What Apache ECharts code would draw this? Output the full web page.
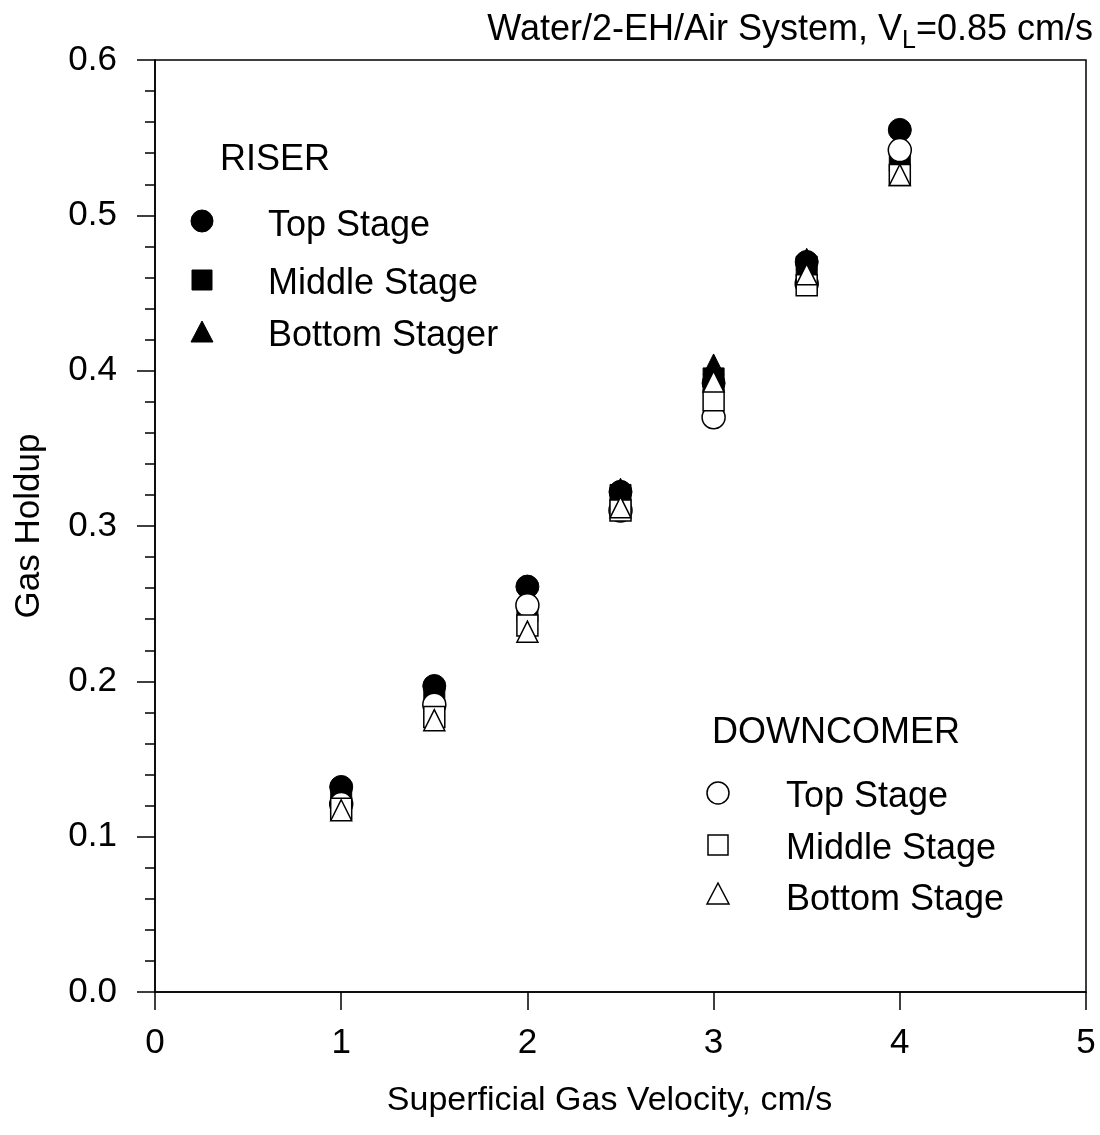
<!DOCTYPE html>
<html>
<head>
<meta charset="utf-8">
<script src="https://cdn.jsdelivr.net/npm/echarts@6/dist/echarts.min.js"></script>
<style>
  html, body { margin: 0; padding: 0; background: #fff; }
  #main { width: 1100px; height: 1135px; }
</style>
</head>
<body>
<div id="main"></div>
<script>
// superficial gas velocity, cm/s
const velocity = [1, 1.5, 2, 2.5, 3, 3.5, 4];

// riser (filled symbols)
const riserTop = [0.132, 0.197, 0.261, 0.322, 0.392, 0.470, 0.555];
const riserMiddle = [0.128, 0.190, 0.245, 0.320, 0.395, 0.467, 0.535];
const riserBottom = [0.125, 0.185, 0.240, 0.324, 0.404, 0.472, 0.530];

// downcomer (open symbols)
const downTop = [0.121, 0.185, 0.249, 0.310, 0.370, 0.456, 0.542];
const downMiddle = [0.118, 0.177, 0.236, 0.310, 0.381, 0.455, 0.526];
const downBottom = [0.117, 0.175, 0.232, 0.312, 0.393, 0.462, 0.526];

const riserNames = ['Top Stage', 'Middle Stage', 'Bottom Stager'];
const downNames = ['Top Stage', 'Middle Stage', 'Bottom Stage'];

const FONT = 'Liberation Sans, Arial, sans-serif';

function pairs(ys) {
  return velocity.map((x, i) => [x, ys[i]]);
}

function scatter(name, ys, symbol, filled) {
  return {
    type: 'scatter',
    name: name,
    data: pairs(ys),
    symbol: symbol,
    symbolSize: symbol === 'circle' ? 23 : 21,
    itemStyle: filled
      ? { color: '#000', borderColor: '#000', borderWidth: 1, opacity: 1 }
      : { color: '#fff', borderColor: '#000', borderWidth: 1.5, opacity: 1 },
    emphasis: { disabled: true }
  };
}

// legend drawn by hand, positions in pixels
function legendSymbol(kind, cx, cy, filled) {
  const style = filled
    ? { fill: '#000', stroke: '#000', lineWidth: 1 }
    : { fill: '#fff', stroke: '#000', lineWidth: 1.5 };
  if (kind === 'circle') {
    return { type: 'circle', shape: { cx: cx, cy: cy, r: 11 }, style: style };
  }
  if (kind === 'rect') {
    return { type: 'rect', shape: { x: cx - 10, y: cy - 10, width: 20, height: 20 }, style: style };
  }
  return {
    type: 'polygon',
    shape: { points: [[cx, cy - 11], [cx + 11, cy + 10], [cx - 11, cy + 10]] },
    style: style
  };
}

function legendText(text, x, y) {
  return {
    type: 'text',
    x: x, y: y,
    style: { text: text, fill: '#000', font: '36px ' + FONT, textVerticalAlign: 'middle' }
  };
}

const kinds = ['circle', 'rect', 'triangle'];
const graphics = [legendText('RISER', 220, 160), legendText('DOWNCOMER', 712, 733)];
const riserSymY = [221, 280, 332], riserTextY = [226, 284, 336];
const downSymY = [793, 845, 894], downTextY = [797, 849, 900];
kinds.forEach((k, i) => {
  graphics.push(legendSymbol(k, 202, riserSymY[i], true));
  graphics.push(legendText(riserNames[i], 268, riserTextY[i]));
  graphics.push(legendSymbol(k, 718, downSymY[i], false));
  graphics.push(legendText(downNames[i], 786, downTextY[i]));
});

const chart = echarts.init(document.getElementById('main'));
chart.setOption({
  backgroundColor: '#fff',
  animation: false,
  textStyle: { fontFamily: FONT, color: '#000' },
  title: {
    text: 'Water/2-EH/Air System, V{sub|L}=0.85 cm/s',
    right: 7,
    top: 7,
    padding: 0,
    textStyle: {
      fontFamily: FONT,
      fontSize: 36,
      fontWeight: 'normal',
      color: '#000',
      rich: {
        sub: { fontFamily: FONT, fontSize: 25, color: '#000', padding: [22, 0, 0, 0] }
      }
    }
  },
  grid: {
    left: 155, right: 14, top: 60, bottom: 143,
    show: true, borderColor: '#000', borderWidth: 1.5
  },
  xAxis: {
    type: 'value',
    min: 0, max: 5, interval: 1,
    name: 'Superficial Gas Velocity, cm/s',
    nameLocation: 'middle',
    nameGap: 92,
    nameTextStyle: { fontFamily: FONT, fontSize: 34, color: '#000', padding: [0, 22, 0, 0] },
    axisLine: { lineStyle: { color: '#000', width: 1.5 } },
    axisTick: { inside: false, length: 18, lineStyle: { color: '#000', width: 1.5 } },
    axisLabel: { margin: 34, fontFamily: FONT, fontSize: 35, color: '#000' },
    splitLine: { show: false }
  },
  yAxis: {
    type: 'value',
    min: 0, max: 0.6, interval: 0.1,
    name: 'Gas Holdup',
    nameLocation: 'middle',
    nameGap: 108,
    nameTextStyle: { fontFamily: FONT, fontSize: 35, color: '#000' },
    axisLine: { lineStyle: { color: '#000', width: 1.5 } },
    axisTick: { inside: false, length: 18, lineStyle: { color: '#000', width: 1.5 } },
    minorTick: { show: true, splitNumber: 5, length: 10, lineStyle: { color: '#000', width: 1.5 } },
    axisLabel: {
      margin: 38, fontFamily: FONT, fontSize: 35, color: '#000',
      formatter: v => v.toFixed(1)
    },
    splitLine: { show: false }
  },
  graphic: graphics,
  series: [
    scatter('Riser Top', riserTop, 'circle', true),
    scatter('Riser Middle', riserMiddle, 'rect', true),
    scatter('Riser Bottom', riserBottom, 'triangle', true),
    scatter('Downcomer Top', downTop, 'circle', false),
    scatter('Downcomer Middle', downMiddle, 'rect', false),
    scatter('Downcomer Bottom', downBottom, 'triangle', false)
  ]
});
</script>
</body>
</html>
